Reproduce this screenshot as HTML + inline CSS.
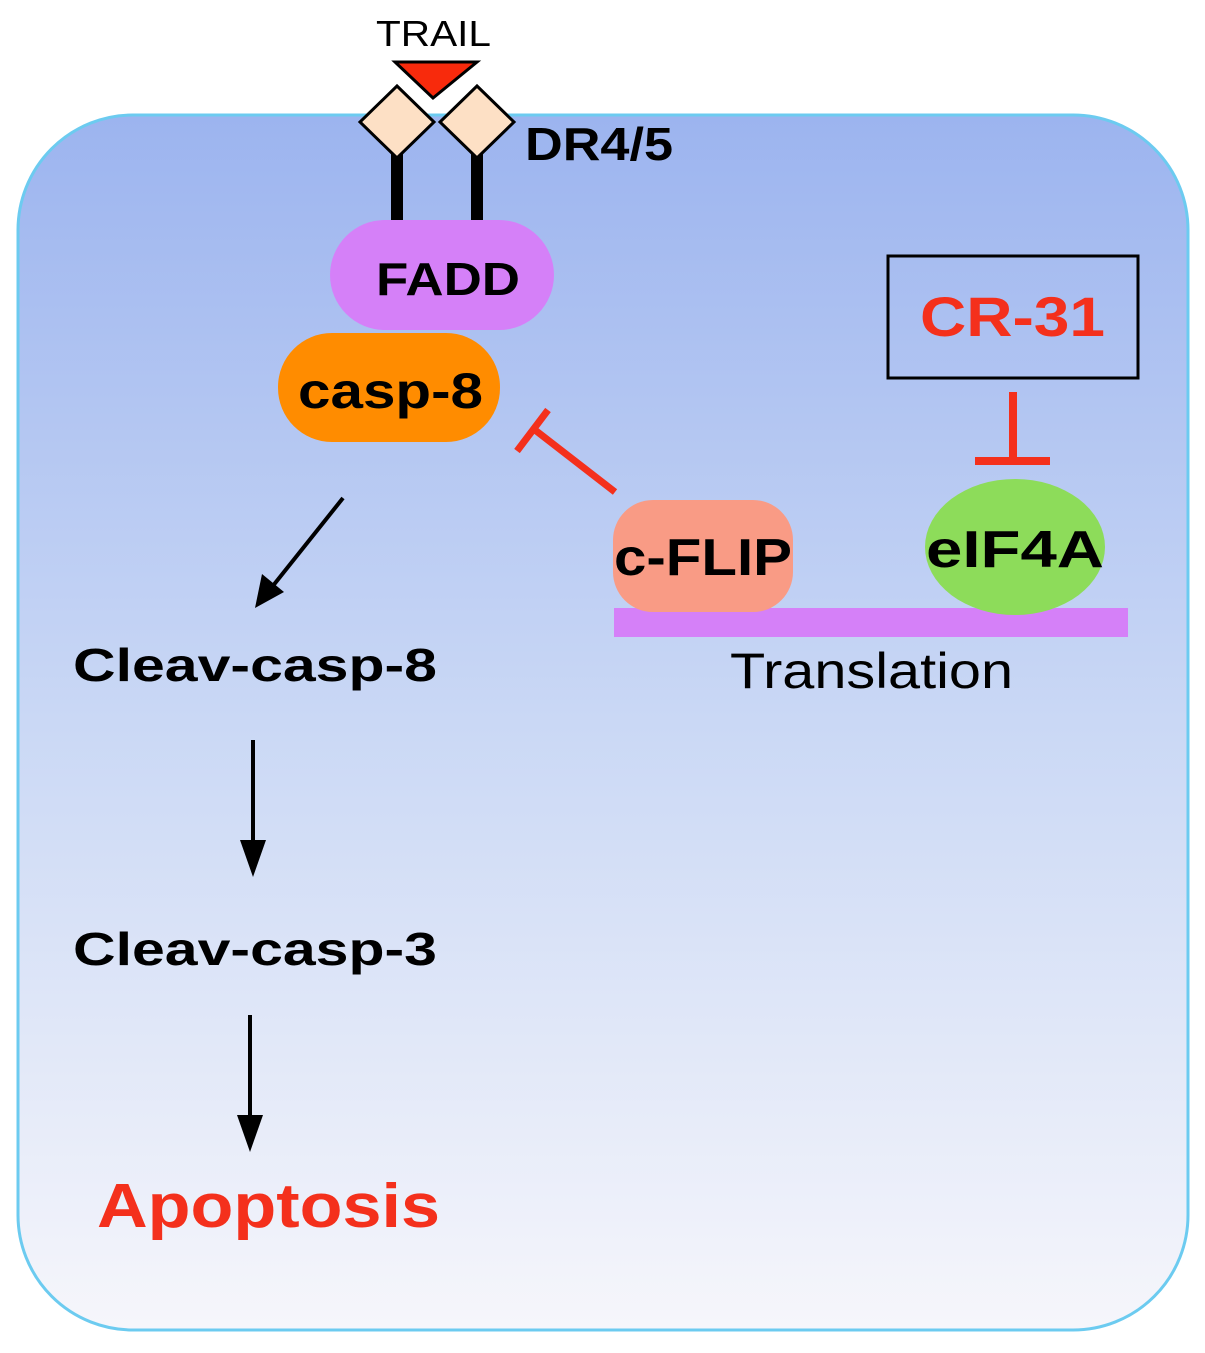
<!DOCTYPE html>
<html><head><style>
body{margin:0;width:1205px;height:1348px;background:#fff;overflow:hidden;font-family:"Liberation Sans",Arial,sans-serif}
</style></head><body>
<svg width="1205" height="1348" viewBox="0 0 1205 1348" xmlns="http://www.w3.org/2000/svg">
<defs>
<linearGradient id="g" x1="0" y1="0" x2="0" y2="1">
<stop offset="0" stop-color="#9cb4ef"/><stop offset="0.5" stop-color="#cad8f5"/><stop offset="1" stop-color="#f6f6fb"/>
</linearGradient>
</defs>
<rect x="18" y="115" width="1170" height="1215" rx="115" fill="url(#g)" stroke="#6ccbf0" stroke-width="3"/>
<text x="376" y="46" font-size="36" textLength="115" lengthAdjust="spacingAndGlyphs">TRAIL</text>
<polygon points="395,62 477,62 433,98" fill="#f82a0c" stroke="#000" stroke-width="3"/>
<rect x="391" y="150" width="12" height="72" fill="#000"/>
<rect x="471" y="150" width="12" height="72" fill="#000"/>
<polygon points="397,86 434,122 397,158 360,122" fill="#fde0c5" stroke="#000" stroke-width="3"/>
<polygon points="477,86 514,122 477,158 440,122" fill="#fde0c5" stroke="#000" stroke-width="3"/>
<text x="525" y="160" font-size="46" font-weight="bold" textLength="148" lengthAdjust="spacingAndGlyphs">DR4/5</text>
<rect x="330" y="220" width="224" height="110" rx="55" fill="#d580f8"/>
<text x="376" y="295" font-size="46" font-weight="bold" textLength="144" lengthAdjust="spacingAndGlyphs">FADD</text>
<rect x="278" y="333" width="222" height="109" rx="54" fill="#ff8c00"/>
<text x="298" y="408" font-size="50" font-weight="bold" textLength="185" lengthAdjust="spacingAndGlyphs">casp-8</text>
<line x1="343" y1="498" x2="272" y2="587" stroke="#000" stroke-width="4"/>
<polygon points="255,608 262,574 284,592" fill="#000"/>
<line x1="615" y1="492" x2="535" y2="430" stroke="#f4301c" stroke-width="7"/>
<line x1="517" y1="451" x2="548" y2="410" stroke="#f4301c" stroke-width="7"/>
<rect x="614" y="608" width="514" height="29" fill="#d580f8"/>
<rect x="613" y="500" width="180" height="112" rx="40" fill="#f99b85"/>
<text x="614" y="575" font-size="52" font-weight="bold" textLength="178" lengthAdjust="spacingAndGlyphs">c-FLIP</text>
<ellipse cx="1015" cy="547" rx="90" ry="68" fill="#8ddc5a"/>
<text x="926" y="567" font-size="52" font-weight="bold" textLength="178" lengthAdjust="spacingAndGlyphs">eIF4A</text>
<text x="730" y="688" font-size="50" textLength="283" lengthAdjust="spacingAndGlyphs">Translation</text>
<rect x="888" y="256" width="250" height="122" fill="none" stroke="#000" stroke-width="3"/>
<text x="920" y="336" font-size="56" font-weight="bold" fill="#f4301c" textLength="185" lengthAdjust="spacingAndGlyphs">CR-31</text>
<line x1="1013" y1="392" x2="1013" y2="460" stroke="#f4301c" stroke-width="8"/>
<line x1="975" y1="461" x2="1050" y2="461" stroke="#f4301c" stroke-width="8"/>
<text x="73" y="681" font-size="46" font-weight="bold" textLength="364" lengthAdjust="spacingAndGlyphs">Cleav-casp-8</text>
<line x1="253" y1="740" x2="253" y2="845" stroke="#000" stroke-width="4"/>
<polygon points="253,877 240,840 266,840" fill="#000"/>
<text x="73" y="965" font-size="46" font-weight="bold" textLength="364" lengthAdjust="spacingAndGlyphs">Cleav-casp-3</text>
<line x1="250" y1="1015" x2="250" y2="1120" stroke="#000" stroke-width="4"/>
<polygon points="250,1152 237,1115 263,1115" fill="#000"/>
<text x="97" y="1227" font-size="62" font-weight="bold" fill="#f4301c" textLength="343" lengthAdjust="spacingAndGlyphs">Apoptosis</text>
</svg>
</body></html>
